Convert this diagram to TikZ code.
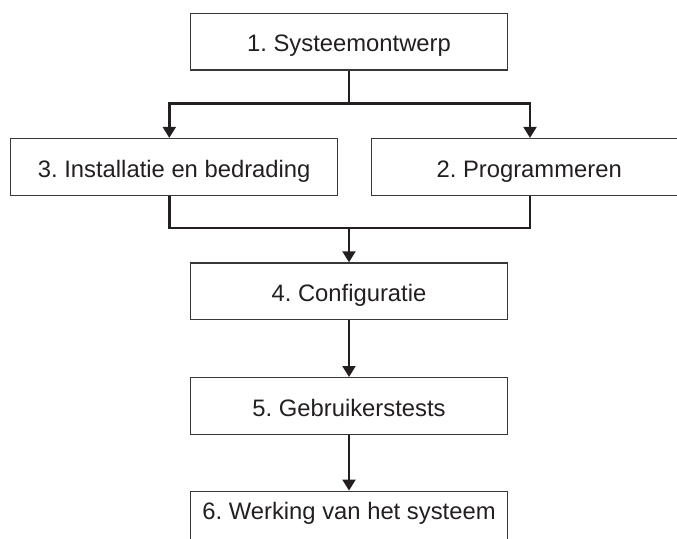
\documentclass[tikz,border=0pt]{standalone}
\usepackage{fontspec}
\setmainfont{Liberation Sans}
\usetikzlibrary{positioning,arrows.meta}
\definecolor{ink}{HTML}{231F20}
\frenchspacing

\begin{document}
\begin{tikzpicture}[x=1pt, y=1pt, node distance={56.7pt}, line width=2.8pt, draw=ink,
	>={Triangle[width=12.7pt,length=11pt]},
	box/.style = {draw=black!78, line width=1.3pt, text=ink, inner ysep=0pt,
		minimum width=316.6pt, text height=38.5pt, text depth=18.2pt,
		font=\fontsize{23.8}{28}\selectfont},
	lastbox/.style = {box, text height=27.7pt, text depth=32pt}]
\useasboundingbox (0,0) rectangle (677,-538);
\clip (0,0) rectangle (677,-538);
\node[box] (1) at (349,-41.65) {1. Systeemontwerp};
	\node[box, minimum width=327pt] (3) [below=67.3pt of 1, xshift=-174.8pt] {3. Installatie en bedrading};
	\node[box, minimum width=315pt] (2) [below=67.3pt of 1, xshift=180.2pt] {2. Programmeren};
\node[box] (4) [below=191.7pt of 1] {4. Configuratie};
\node[box] (5) [below=of 4] {5. Gebruikerstests};
\node[lastbox] (6) [below=55.6pt of 5] {6. Werking van het systeem};
\coordinate (split) at ([yshift=-32.7pt]1.south);
\coordinate (merge) at ([yshift=34.4pt]4.north);
\draw (1.south) -- (split);
\draw[->] (split) -| ([xshift=-4.9pt]3.north);
\draw[->] (split) -| ([xshift=0.8pt]2.north);
\draw ([xshift=-4.9pt]3.south) |- (merge) -| ([xshift=0.8pt]2.south);
\draw[->] (merge) -- (4.north);
\draw[->] (4) -- (5);
\draw[->] (5) -- (6);
\end{tikzpicture}
\end{document}
